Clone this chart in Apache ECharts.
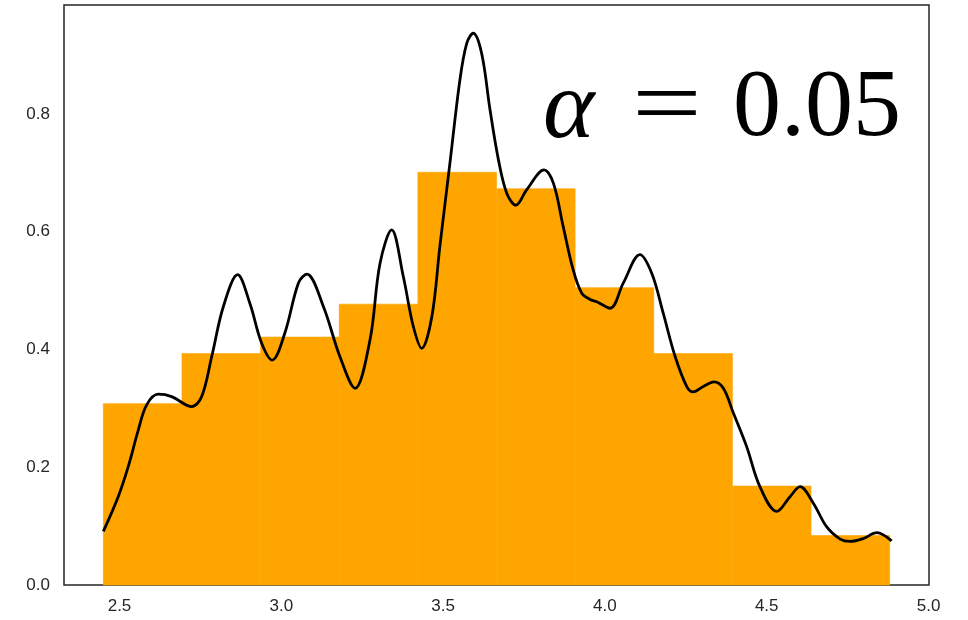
<!DOCTYPE html>
<html>
<head>
<meta charset="utf-8">
<script src="https://cdn.jsdelivr.net/npm/echarts@6/dist/echarts.min.js"></script>
<style>
  html, body { margin: 0; padding: 0; background: #fff; }
  #main { width: 968px; height: 620px; }
</style>
</head>
<body>
<div id="main"></div>
<script>
// histogram bins (density)
var binEdges = [2.45, 2.693, 2.936, 3.179, 3.422, 3.665, 3.908, 4.151, 4.394, 4.637, 4.88];
var density = [0.308, 0.393, 0.421, 0.477, 0.701, 0.673, 0.505, 0.393, 0.168, 0.084];

// kde curve
var kdeX = [2.450, 2.496, 2.527, 2.558, 2.584, 2.620, 2.661, 2.723, 2.754, 2.785,
            2.821, 2.865, 2.903, 2.939, 2.972, 3.011, 3.053, 3.079, 3.130, 3.181,
            3.228, 3.274, 3.305, 3.341, 3.377, 3.408, 3.434, 3.465, 3.490, 3.521,
            3.552, 3.573, 3.593, 3.619, 3.645, 3.671, 3.697, 3.725, 3.758, 3.812,
            3.841, 3.871, 3.902, 3.928, 3.954, 3.975, 4.016, 4.057, 4.108, 4.145,
            4.180, 4.217, 4.253, 4.273, 4.304, 4.337, 4.366, 4.397, 4.438, 4.479,
            4.531, 4.572, 4.603, 4.644, 4.685, 4.727, 4.757, 4.799, 4.840, 4.886];
var kdeY = [0.091, 0.150, 0.201, 0.263, 0.306, 0.324, 0.320, 0.303, 0.320, 0.388,
            0.473, 0.527, 0.478, 0.411, 0.382, 0.428, 0.513, 0.528, 0.473, 0.388,
            0.334, 0.416, 0.546, 0.603, 0.524, 0.439, 0.402, 0.455, 0.575, 0.716,
            0.858, 0.920, 0.937, 0.903, 0.807, 0.722, 0.665, 0.645, 0.671, 0.705,
            0.682, 0.609, 0.535, 0.496, 0.485, 0.481, 0.470, 0.513, 0.561, 0.529,
            0.462, 0.388, 0.337, 0.328, 0.337, 0.345, 0.334, 0.292, 0.235, 0.167,
            0.125, 0.150, 0.167, 0.139, 0.099, 0.078, 0.074, 0.079, 0.089, 0.075];

var xTicks = [2.5, 3.0, 3.5, 4.0, 4.5, 5.0];
var yTicks = [0.0, 0.2, 0.4, 0.6, 0.8];

var chart = echarts.init(document.getElementById('main'));

var bars = density.map(function (d, i) {
    return [binEdges[i], binEdges[i + 1], d];
});
var kde = kdeX.map(function (x, i) {
    return [x, kdeY[i]];
});

var serif = '96px "Liberation Serif"';

var option = {
    animation: false,
    backgroundColor: '#fff',
    grid: {
        left: 64, right: 39, top: 5, bottom: 35,
        show: true,
        borderColor: '#262626',
        borderWidth: 1.5,
        backgroundColor: 'transparent'
    },
    xAxis: {
        type: 'value',
        min: 2.3285,
        max: 5.0015,
        axisLine: { show: false },
        axisTick: { show: false },
        splitLine: { show: false },
        axisLabel: {
            customValues: xTicks,
            margin: 13,
            fontFamily: 'Liberation Sans',
            fontSize: 17,
            color: '#262626',
            formatter: function (v) { return v.toFixed(1); }
        }
    },
    yAxis: {
        type: 'value',
        min: 0,
        max: 0.985,
        axisLine: { show: false },
        axisTick: { show: false },
        splitLine: { show: false },
        axisLabel: {
            customValues: yTicks,
            margin: 14,
            fontFamily: 'Liberation Sans',
            fontSize: 17,
            color: '#262626',
            formatter: function (v) { return v.toFixed(1); }
        }
    },
    series: [
        {
            type: 'custom',
            data: bars,
            z: 1,
            renderItem: function (params, api) {
                var p0 = api.coord([api.value(0), api.value(2)]);
                var p1 = api.coord([api.value(1), 0]);
                return {
                    type: 'rect',
                    shape: { x: p0[0], y: p0[1], width: p1[0] - p0[0], height: p1[1] - p0[1] },
                    style: { fill: '#FFA500', stroke: '#FFA500', lineWidth: 0.6 }
                };
            }
        },
        {
            type: 'line',
            data: kde,
            z: 3,
            smooth: 0.35,
            showSymbol: false,
            lineStyle: { color: '#000', width: 2.8 }
        }
    ],
    graphic: [
        {
            type: 'text', x: 543, y: 62, z: 10,
            style: { text: 'α', font: 'italic 98px "Liberation Serif"', fill: '#000', verticalAlign: 'top' }
        },
        {
            type: 'text', x: 632, y: 62, z: 10, scaleX: 1.29,
            style: { text: '=', font: serif, fill: '#000', verticalAlign: 'top' }
        },
        {
            type: 'text', x: 733, y: 62, z: 10,
            style: { text: '0.05', font: serif, fill: '#000', verticalAlign: 'top' }
        }
    ]
};

option && chart.setOption(option);
</script>
</body>
</html>
